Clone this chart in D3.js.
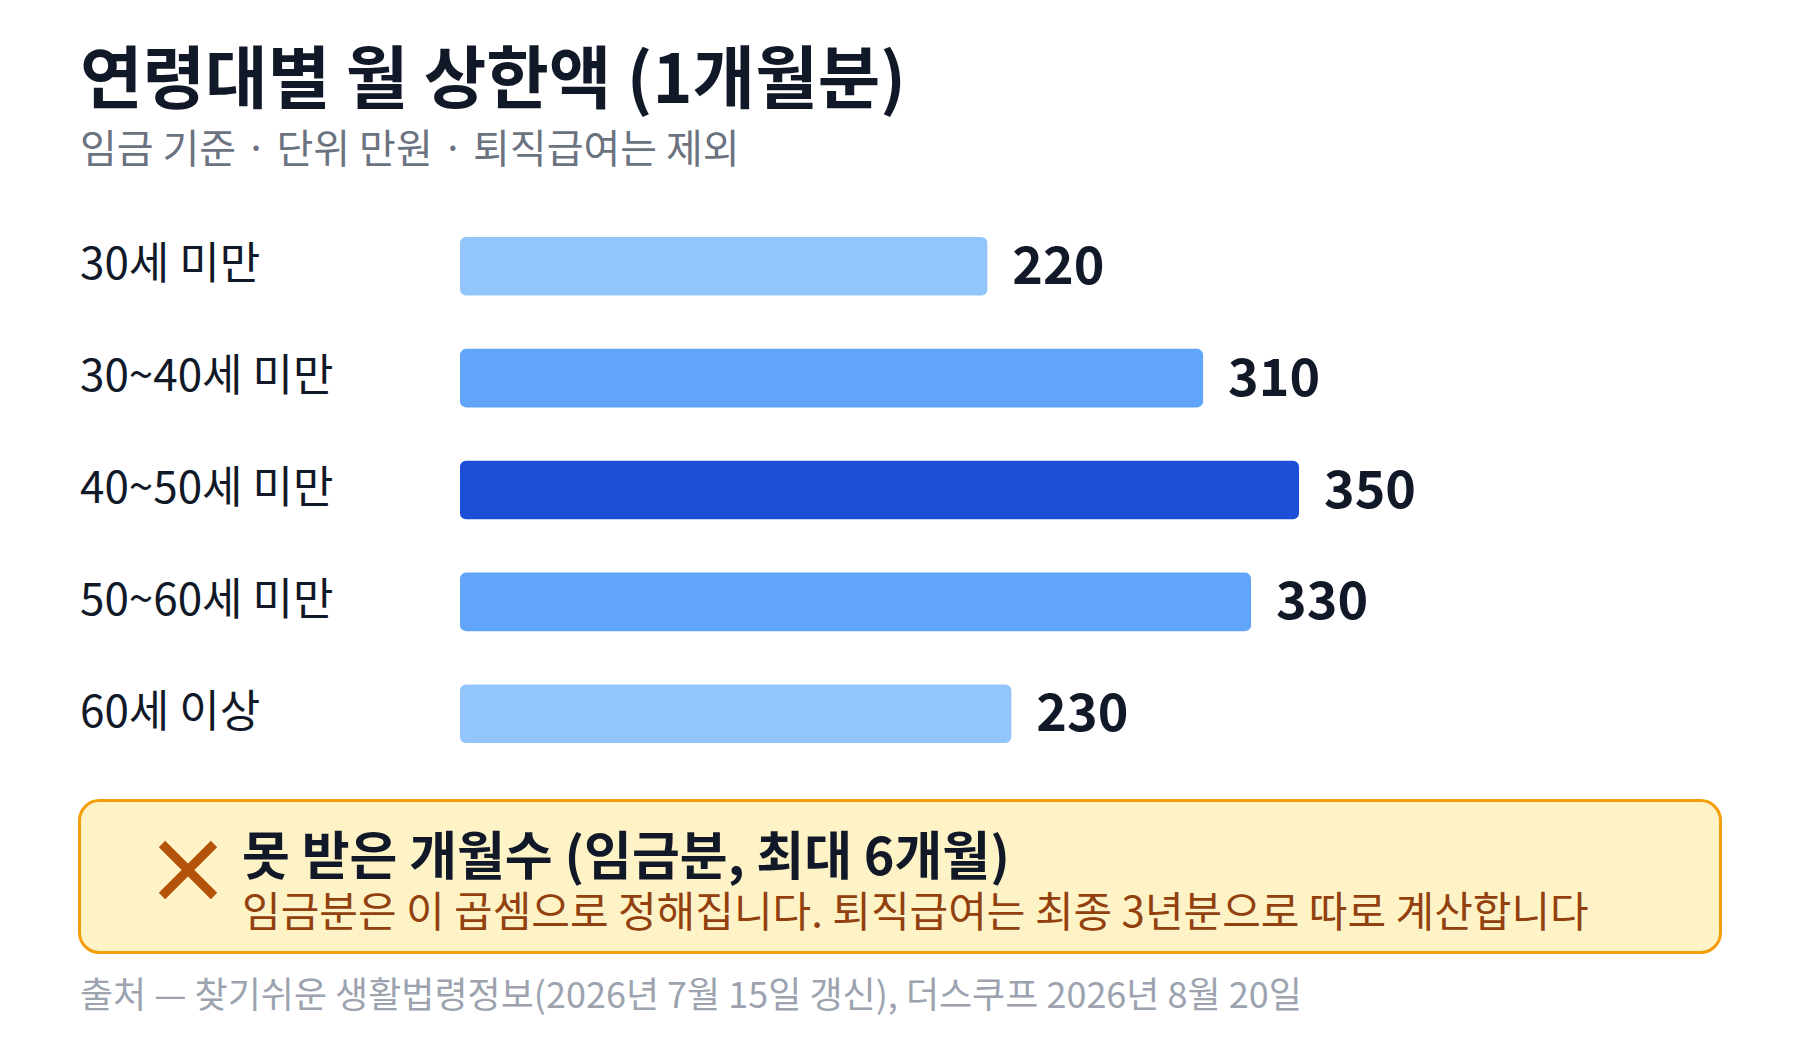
<!DOCTYPE html>
<html>
<head>
<meta charset="utf-8">
<script src="https://cdn.jsdelivr.net/npm/d3@7"></script>
<style>
  html, body { margin: 0; padding: 0; background: #ffffff; }
  svg { display: block; font-family: "Noto Sans CJK KR", "Noto Sans", sans-serif; }
</style>
</head>
<body>
<svg id="chart" width="1800" height="1040"></svg>
<script>
// ---- data ----
const categories = ["30세 미만", "30~40세 미만", "40~50세 미만", "50~60세 미만", "60세 이상"];
const values = [220, 310, 350, 330, 230];
const titleText = "연령대별 월 상한액 (1개월분)";
const subtitleText = "임금 기준 · 단위 만원 · 퇴직급여는 제외";
const noteTitle = "못 받은 개월수 (임금분, 최대 6개월)";
const noteBody = "임금분은 이 곱셈으로 정해집니다. 퇴직급여는 최종 3년분으로 따로 계산합니다";
const sourceText = "출처 — 찾기쉬운 생활법령정보(2026년 7월 15일 갱신), 더스쿠프 2026년 8월 20일";

const svg = d3.select("#chart");
const W = 1800, H = 1040;

svg.append("rect").attr("width", W).attr("height", H).attr("fill", "#ffffff");

// title + subtitle
svg.append("text").attr("x", 80).attr("y", 103)
  .attr("font-size", 68).attr("font-weight", 700).attr("fill", "#111827")
  .text(titleText);
svg.append("text").attr("x", 80).attr("y", 163)
  .attr("font-size", 40).attr("fill", "#6b7280")
  .text(subtitleText);

// scales
const x = d3.scaleLinear().domain([0, 350]).range([460, 1299]);
const y = d3.scaleBand().domain(categories).range([237, 743]).paddingInner(0.477).paddingOuter(0);
const color = d3.scaleThreshold().domain([300, 350]).range(["#93c5fd", "#60a5fa", "#1d4ed8"]);

const rows = categories.map((c, i) => ({ cat: c, val: values[i] }));

// category labels
svg.append("g").selectAll("text").data(rows).join("text")
  .attr("x", 80)
  .attr("y", d => y(d.cat) + y.bandwidth() / 2 - 6)
  .attr("dominant-baseline", "central")
  .attr("font-size", 44).attr("fill", "#111827")
  .text(d => d.cat);

// bars
svg.append("g").selectAll("rect").data(rows).join("rect")
  .attr("x", x(0))
  .attr("y", d => y(d.cat))
  .attr("width", d => x(d.val) - x(0))
  .attr("height", y.bandwidth())
  .attr("rx", 6).attr("ry", 6)
  .attr("fill", d => color(d.val));

// value labels
svg.append("g").selectAll("text").data(rows).join("text")
  .attr("x", d => x(d.val) + 25)
  .attr("y", d => y(d.cat) + y.bandwidth() / 2 - 5)
  .attr("dominant-baseline", "central")
  .attr("font-size", 52).attr("font-weight", 700).attr("fill", "#111827")
  .text(d => d.val);

// note box
const note = svg.append("g");
note.append("rect")
  .attr("x", 79.5).attr("y", 800.5).attr("width", 1641).attr("height", 152)
  .attr("rx", 20).attr("ry", 20)
  .attr("fill", "#fef3c7").attr("stroke", "#f59e0b").attr("stroke-width", 3);
const cx = 188, cy = 870, hs = 26;
note.append("path")
  .attr("d", `M${cx - hs},${cy - hs}L${cx + hs},${cy + hs}M${cx + hs},${cy - hs}L${cx - hs},${cy + hs}`)
  .attr("stroke", "#b45309").attr("stroke-width", 9).attr("fill", "none");
note.append("text").attr("x", 242).attr("y", 875)
  .attr("font-size", 52).attr("font-weight", 700).attr("fill", "#111827")
  .text(noteTitle);
note.append("text").attr("x", 242).attr("y", 927)
  .attr("font-size", 42).attr("fill", "#92400e")
  .text(noteBody);

// source
svg.append("text").attr("x", 80).attr("y", 1008)
  .attr("font-size", 36).attr("fill", "#9ca3af")
  .text(sourceText);
</script>
</body>
</html>
